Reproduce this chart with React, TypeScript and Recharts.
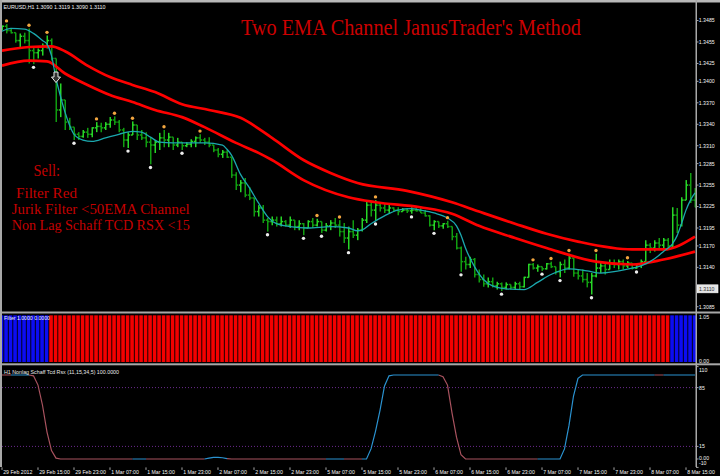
import React from 'react';
import { ComposedChart, Bar, Line, Scatter, XAxis, YAxis, ReferenceLine } from 'recharts';

// ---------- EURUSD H1 bars (155 hourly bars) ----------
const highs = [
  1.3478, 1.3480, 1.3474, 1.3468, 1.3467, 1.3468, 1.3474, 1.3448, 1.3446, 1.3453,
  1.3464, 1.3460, 1.3432, 1.3397, 1.3374, 1.3349, 1.3336, 1.3329, 1.3332, 1.3335,
  1.3336, 1.3343, 1.3342, 1.3343, 1.3350, 1.3351, 1.3346, 1.3335, 1.3329, 1.3344,
  1.3339, 1.3332, 1.3329, 1.3322, 1.3318, 1.3328, 1.3332, 1.3328, 1.3322, 1.3321,
  1.3315, 1.3315, 1.3319, 1.3323, 1.3326, 1.3321, 1.3322, 1.3311, 1.3307, 1.3304,
  1.3304, 1.3294, 1.3273, 1.3262, 1.3265, 1.3252, 1.3237, 1.3227, 1.3227, 1.3209,
  1.3211, 1.3211, 1.3211, 1.3206, 1.3211, 1.3206, 1.3206, 1.3202, 1.3206, 1.3209,
  1.3208, 1.3204, 1.3202, 1.3206, 1.3209, 1.3206, 1.3202, 1.3197, 1.3206, 1.3195,
  1.3209, 1.3234, 1.3233, 1.3234, 1.3231, 1.3230, 1.3227, 1.3224, 1.3224, 1.3223,
  1.3223, 1.3224, 1.3224, 1.3223, 1.3220, 1.3213, 1.3206, 1.3204, 1.3202, 1.3205,
  1.3197, 1.3188, 1.3169, 1.3155, 1.3155, 1.3153, 1.3137, 1.3130, 1.3126, 1.3126,
  1.3120, 1.3119, 1.3119, 1.3116, 1.3120, 1.3120, 1.3127, 1.3145, 1.3146, 1.3144,
  1.3141, 1.3146, 1.3148, 1.3141, 1.3148, 1.3151, 1.3159, 1.3153, 1.3137, 1.3137,
  1.3132, 1.3132, 1.3159, 1.3146, 1.3146, 1.3151, 1.3151, 1.3151, 1.3151, 1.3149,
  1.3146, 1.3146, 1.3151, 1.3178, 1.3174, 1.3178, 1.3181, 1.3181, 1.3181, 1.3224,
  1.3223, 1.3238, 1.3262, 1.3272, 1.3251,
];
const lows = [
  1.3471, 1.3467, 1.3467, 1.3454, 1.3448, 1.3453, 1.3425, 1.3424, 1.3432, 1.3436,
  1.3446, 1.3429, 1.3343, 1.3350, 1.3332, 1.3332, 1.3318, 1.3318, 1.3321, 1.3321,
  1.3322, 1.3329, 1.3329, 1.3332, 1.3335, 1.3339, 1.3329, 1.3308, 1.3307, 1.3325,
  1.3318, 1.3318, 1.3308, 1.3284, 1.3300, 1.3304, 1.3308, 1.3308, 1.3304, 1.3308,
  1.3304, 1.3308, 1.3308, 1.3308, 1.3314, 1.3311, 1.3308, 1.3301, 1.3294, 1.3293,
  1.3293, 1.3265, 1.3248, 1.3245, 1.3238, 1.3234, 1.3211, 1.3211, 1.3202, 1.3190,
  1.3199, 1.3197, 1.3197, 1.3197, 1.3195, 1.3192, 1.3192, 1.3185, 1.3195, 1.3195,
  1.3197, 1.3188, 1.3190, 1.3192, 1.3195, 1.3183, 1.3174, 1.3165, 1.3181, 1.3178,
  1.3190, 1.3202, 1.3211, 1.3205, 1.3218, 1.3216, 1.3216, 1.3218, 1.3213, 1.3218,
  1.3216, 1.3215, 1.3218, 1.3216, 1.3211, 1.3197, 1.3192, 1.3195, 1.3194, 1.3195,
  1.3178, 1.3165, 1.3134, 1.3137, 1.3139, 1.3126, 1.3119, 1.3113, 1.3112, 1.3112,
  1.3109, 1.3107, 1.3109, 1.3109, 1.3109, 1.3109, 1.3112, 1.3126, 1.3137, 1.3134,
  1.3135, 1.3137, 1.3139, 1.3130, 1.3126, 1.3132, 1.3137, 1.3127, 1.3123, 1.3119,
  1.3112, 1.3102, 1.3126, 1.3132, 1.3130, 1.3137, 1.3139, 1.3137, 1.3137, 1.3139,
  1.3137, 1.3138, 1.3139, 1.3148, 1.3160, 1.3162, 1.3167, 1.3165, 1.3165, 1.3167,
  1.3188, 1.3197, 1.3234, 1.3230, 1.3224,
];
const opens = [
  1.3474, 1.3477, 1.3471, 1.3468, 1.3457, 1.3463, 1.3457, 1.3443, 1.3440, 1.3443,
  1.3450, 1.3457, 1.3432, 1.3360, 1.3374, 1.3343, 1.3336, 1.3326, 1.3323, 1.3329,
  1.3326, 1.3335, 1.3337, 1.3335, 1.3340, 1.3346, 1.3343, 1.3332, 1.3318, 1.3325,
  1.3339, 1.3325, 1.3321, 1.3315, 1.3311, 1.3315, 1.3321, 1.3318, 1.3322, 1.3311,
  1.3315, 1.3310, 1.3312, 1.3316, 1.3321, 1.3318, 1.3315, 1.3311, 1.3304, 1.3298,
  1.3301, 1.3294, 1.3269, 1.3255, 1.3258, 1.3241, 1.3237, 1.3218, 1.3223, 1.3206,
  1.3204, 1.3206, 1.3201, 1.3204, 1.3199, 1.3206, 1.3197, 1.3201, 1.3195, 1.3204,
  1.3199, 1.3204, 1.3192, 1.3198, 1.3202, 1.3199, 1.3190, 1.3181, 1.3190, 1.3185,
  1.3192, 1.3206, 1.3227, 1.3220, 1.3227, 1.3223, 1.3220, 1.3223, 1.3220, 1.3218,
  1.3220, 1.3219, 1.3220, 1.3219, 1.3216, 1.3212, 1.3199, 1.3204, 1.3198, 1.3201,
  1.3197, 1.3183, 1.3167, 1.3148, 1.3144, 1.3151, 1.3130, 1.3123, 1.3117, 1.3120,
  1.3114, 1.3117, 1.3112, 1.3116, 1.3112, 1.3117, 1.3113, 1.3126, 1.3144, 1.3139,
  1.3141, 1.3138, 1.3145, 1.3141, 1.3134, 1.3144, 1.3139, 1.3153, 1.3132, 1.3128,
  1.3123, 1.3119, 1.3128, 1.3139, 1.3142, 1.3137, 1.3146, 1.3144, 1.3148, 1.3142,
  1.3146, 1.3139, 1.3144, 1.3148, 1.3171, 1.3167, 1.3174, 1.3171, 1.3178, 1.3170,
  1.3213, 1.3199, 1.3234, 1.3255, 1.3234,
];
const closes = [
  1.3477, 1.3471, 1.3468, 1.3457, 1.3463, 1.3457, 1.3443, 1.3440, 1.3443, 1.3450,
  1.3457, 1.3432, 1.3360, 1.3374, 1.3343, 1.3336, 1.3326, 1.3323, 1.3329, 1.3326,
  1.3335, 1.3337, 1.3335, 1.3340, 1.3346, 1.3343, 1.3332, 1.3318, 1.3325, 1.3339,
  1.3325, 1.3321, 1.3315, 1.3311, 1.3315, 1.3321, 1.3318, 1.3322, 1.3311, 1.3315,
  1.3310, 1.3312, 1.3316, 1.3321, 1.3318, 1.3315, 1.3311, 1.3304, 1.3298, 1.3301,
  1.3294, 1.3269, 1.3255, 1.3258, 1.3241, 1.3237, 1.3218, 1.3223, 1.3206, 1.3204,
  1.3206, 1.3201, 1.3204, 1.3199, 1.3206, 1.3197, 1.3201, 1.3195, 1.3204, 1.3199,
  1.3204, 1.3192, 1.3198, 1.3202, 1.3199, 1.3190, 1.3181, 1.3190, 1.3185, 1.3192,
  1.3206, 1.3227, 1.3220, 1.3227, 1.3223, 1.3220, 1.3223, 1.3220, 1.3218, 1.3220,
  1.3219, 1.3220, 1.3219, 1.3216, 1.3212, 1.3199, 1.3204, 1.3198, 1.3201, 1.3197,
  1.3183, 1.3167, 1.3148, 1.3144, 1.3151, 1.3130, 1.3123, 1.3117, 1.3120, 1.3114,
  1.3117, 1.3112, 1.3116, 1.3112, 1.3117, 1.3113, 1.3126, 1.3144, 1.3139, 1.3141,
  1.3138, 1.3145, 1.3141, 1.3134, 1.3144, 1.3139, 1.3153, 1.3132, 1.3128, 1.3123,
  1.3119, 1.3128, 1.3139, 1.3142, 1.3137, 1.3146, 1.3144, 1.3148, 1.3142, 1.3146,
  1.3139, 1.3144, 1.3148, 1.3171, 1.3167, 1.3174, 1.3171, 1.3178, 1.3170, 1.3213,
  1.3199, 1.3234, 1.3255, 1.3234, 1.3224,
];

// fractal markers (bar indices)
const upFractalIdx = [1, 6, 10, 21, 25, 29, 36, 44, 70, 75, 83, 99, 118, 122, 126, 132, 139];
const downFractalIdx = [7, 16, 28, 33, 40, 59, 67, 71, 77, 83, 91, 96, 102, 111, 120, 124, 131, 141];
const sellSignal = [{ i: 12, v: 1.3413 }];

// Jurik filter (cyan)
const jurikIdx = [0, 2, 5, 7, 9, 10, 11, 12, 13, 14, 15, 16, 18, 20, 23, 26, 29, 31, 33, 35, 38, 45, 49, 50, 51, 53, 55, 57, 59, 61, 64, 68, 73, 77, 79, 80, 82, 85, 88, 91, 93, 96, 99, 101, 102, 103, 105, 107, 109, 112, 116, 119, 122, 126, 130, 133, 136, 140, 142, 145, 147, 149, 150, 151, 152, 153, 154];
const jurikVal = [1.3470, 1.3474, 1.3473, 1.3467, 1.3457, 1.3452, 1.3436, 1.3404, 1.3379, 1.3357, 1.3339, 1.3326, 1.3318, 1.3316, 1.3321, 1.3326, 1.3330, 1.3329, 1.3322, 1.3315, 1.3314, 1.3314, 1.3311, 1.3305, 1.3297, 1.3270, 1.3251, 1.3230, 1.3211, 1.3201, 1.3197, 1.3195, 1.3197, 1.3195, 1.3191, 1.3192, 1.3201, 1.3212, 1.3220, 1.3222, 1.3220, 1.3216, 1.3209, 1.3198, 1.3185, 1.3167, 1.3141, 1.3123, 1.3114, 1.3110, 1.3109, 1.3119, 1.3130, 1.3138, 1.3135, 1.3132, 1.3134, 1.3139, 1.3142, 1.3152, 1.3162, 1.3173, 1.3184, 1.3201, 1.3220, 1.3234, 1.3244];

// 50 EMA channel (high / low)
const emaHighIdx = [0, 6, 11, 14, 19, 24, 29, 34, 40, 46, 53, 60, 67, 73, 79, 90, 100, 106, 114, 121, 128, 140, 147, 154];
const emaHighVal = [1.3443, 1.3448, 1.3449, 1.3442, 1.3422, 1.3406, 1.3395, 1.3385, 1.3368, 1.3360, 1.3349, 1.3321, 1.3290, 1.3272, 1.3258, 1.3247, 1.3231, 1.3218, 1.3201, 1.3187, 1.3176, 1.3165, 1.3165, 1.3183];
const emaLowIdx = [0, 6, 10, 14, 19, 24, 29, 34, 40, 45, 52, 57, 60, 67, 77, 83, 93, 100, 106, 114, 121, 132, 140, 147, 154];
const emaLowVal = [1.3422, 1.3429, 1.3428, 1.3411, 1.3395, 1.3381, 1.3371, 1.3360, 1.3350, 1.3336, 1.3314, 1.3300, 1.3290, 1.3262, 1.3238, 1.3231, 1.3224, 1.3215, 1.3198, 1.3181, 1.3167, 1.3148, 1.3144, 1.3151, 1.3162];

// Filter histogram: runs of [direction, bar count] (1 = blue, -1 = red)
const filterRuns = [[1, 11], [-1, 138], [1, 6]];

// Nonlag Schaff TCD RSX
const schaffVals = [
  100, 100, 100, 100, 100, 100, 100, 99, 88, 64,
  32, 10, 1, 0, 0, 0, 0, 0, 0, 0,
  0, 0, 0, 0, 0, 0, 0, 0, 0, 0,
  0, 0, 0, 0, 0, 0, 0, 0, 0, 0,
  0, 0, 0, 0, 0, 0, 1, 2, 2, 1.5,
  0.5, 0, 0, 0, 0, 0, 0, 0, 0, 0,
  0, 0, 0, 0, 0, 0, 0, 0, 0, 0,
  0, 0, 0, 0, 0, 0, 0, 0, 0, 0,
  0, 0, 12, 33, 58, 87, 99, 100, 100, 100,
  100, 100, 100, 100, 100, 100, 100, 100, 98, 88,
  55, 26, 5, 0, 0, 0, 0, 0, 0, 0,
  0, 0, 0, 0, 0, 0, 0, 0, 0, 0,
  0, 0, 0, 0, 0, 12, 40, 75, 96, 100,
  100, 100, 100, 100, 100, 100, 100, 100, 100, 100,
  100, 100, 100, 100, 100, 100, 100, 100, 100, 100,
  100, 100, 100, 100, 100,
];
const schaffTrendRuns = [[-1, 3], [1, 4], [-1, 23], [1, 3], [-1, 13], [1, 5], [-1, 22], [1, 4], [-1, 4], [1, 17], [-1, 22], [1, 26], [-1, 2], [1, 7]];

// axis ticks and labels
const priceTicks = [1.3485, 1.3455, 1.3425, 1.3400, 1.3370, 1.3340, 1.3310, 1.3285, 1.3255, 1.3225, 1.3195, 1.3170, 1.3140, 1.3110, 1.3085];
const currentPrice = 1.3110;
const filterTicks = [1.05, 0];
const schaffTicks = [110, 85, 15, 0, -10];
const schaffLevels = [85, 15];
const dateTickIdx = [0, 8, 16, 24, 32, 40, 48, 56, 64, 72, 80, 88, 96, 104, 112, 120, 128, 136, 144, 152];
const dateLabels = ['29 Feb 2012', '29 Feb 15:00', '29 Feb 23:00', '1 Mar 07:00', '1 Mar 15:00', '1 Mar 23:00', '2 Mar 07:00', '2 Mar 15:00', '2 Mar 23:00', '5 Mar 07:00', '5 Mar 15:00', '5 Mar 23:00', '6 Mar 07:00', '6 Mar 15:00', '6 Mar 23:00', '7 Mar 07:00', '7 Mar 15:00', '7 Mar 23:00', '8 Mar 07:00', '8 Mar 15:00'];

const titleText = "Two EMA Channel JanusTrader's Method";
const noteLines = ['Sell:', 'Filter Red', 'Jurik Filter <50EMA Channel', 'Non Lag Schaff TCD RSX <15'];
const infoText = 'EURUSD,H1  1.3090 1.3119 1.3090 1.3110';
const filterLabel = 'Filter 1.0000 0.0000';
const schaffLabel = 'H1 Nonlag Schaff Tcd Rsx (11,15,34,5) 100.0000';

// ---------- derived tables ----------
const expandRuns = (runs: number[][]) => runs.flatMap(([d, n]) => Array.from({ length: n }, () => d));
const pairs = (idx: number[], val: number[]) => idx.map((i, k) => ({ i, v: val[k] }));

const barData = highs.map((h, i) => ({ i, high: h, low: lows[i], open: opens[i], close: closes[i] }));
const upFrData = upFractalIdx.map((i) => ({ i, v: highs[i] }));
const downFrData = downFractalIdx.map((i) => ({ i, v: lows[i] }));
const jurikData = pairs(jurikIdx, jurikVal);
const emaHighData = pairs(emaHighIdx, emaHighVal);
const emaLowData = pairs(emaLowIdx, emaLowVal);
const filterDir = expandRuns(filterRuns);
const filterData = filterDir.map((d, i) => ({ i, f: 1, dir: d }));
const schaffTrend = expandRuns(schaffTrendRuns);
const schaffUp = schaffVals.map((v, i) => ({ i, v: schaffTrend[i] === 1 || schaffTrend[i + 1] === 1 ? v : null }));
const schaffDown = schaffVals.map((v, i) => ({ i, v: schaffTrend[i] === -1 || schaffTrend[i + 1] === -1 ? v : null }));

// ---------- styling ----------
const X_DOMAIN: [number, number] = [-0.4444, 154.2222];
const PRICE_DOMAIN: [number, number] = [1.30804, 1.35067];
const UP_BAR = '#27d627';
const DOWN_BAR = '#119e11';
const SANS = 'Liberation Sans, Arial, sans-serif';
const SERIF = 'Liberation Serif, Times New Roman, serif';
const NOTE_SIZE = 14.2;

const OhlcShape = (props: any) => {
  const { x, y, width, height, payload } = props;
  if (x == null || y == null || !payload) return null;
  const top = Math.min(y, y + height);
  const h = Math.abs(height);
  const cx = x + width / 2;
  const span = payload.high - payload.low || 1e-9;
  const yo = top + ((payload.high - payload.open) / span) * h;
  const yc = top + ((payload.high - payload.close) / span) * h;
  const color = payload.close >= payload.open ? UP_BAR : DOWN_BAR;
  return (
    <g stroke={color} strokeWidth={1.5}>
      <line x1={cx} x2={cx} y1={top} y2={top + Math.max(h, 1)} />
      <line x1={cx - 1.9} x2={cx} y1={yo} y2={yo} />
      <line x1={cx} x2={cx + 1.9} y1={yc} y2={yc} />
    </g>
  );
};

const UpDot = (p: any) => <circle cx={p.cx} cy={p.cy - 3.2} r={1.7} fill="#f2a640" />;
const DownDot = (p: any) => <circle cx={p.cx} cy={p.cy + 3.2} r={1.7} fill="#ececec" />;
const SellArrow = (p: any) => {
  const { cx, cy } = p;
  const pts = [
    [cx - 2, cy], [cx + 2, cy], [cx + 2, cy + 5], [cx + 4.5, cy + 5], [cx, cy + 10.5], [cx - 4.5, cy + 5], [cx - 2, cy + 5],
  ].map((q) => q.join(',')).join(' ');
  return <polygon points={pts} fill="#303030" stroke="#e8e8e8" strokeWidth={1} />;
};

const FilterShape = (p: any) => {
  const { x, y, width, height, payload } = p;
  if (x == null) return null;
  return <rect x={x} y={Math.min(y, y + height)} width={width} height={Math.abs(height)} fill={payload.dir > 0 ? '#0c0cf2' : '#f40000'} />;
};

const PriceTick = (props: any) => {
  const { x, y, payload } = props;
  const v = payload.value;
  const label = v.toFixed(4);
  if (Math.abs(v - currentPrice) < 1e-7) {
    return (
      <g>
        <rect x={x + 1} y={y - 4} width={21} height={8} fill="#e4e4e4" stroke="#ffffff" strokeWidth={0.6} />
        <text x={x + 3} y={y + 1.9} fontSize={5.2} fill="#303030" fontFamily={SANS}>{label}</text>
      </g>
    );
  }
  return (
    <g>
      <line x1={x} x2={x + 2.5} y1={y} y2={y} stroke="#d0d0d0" strokeWidth={0.8} />
      <text x={x + 2.8} y={y + 1.9} fontSize={5.2} fill="#f4f4f4" fontFamily={SANS}>{label}</text>
    </g>
  );
};

const FilterTick = (props: any) => {
  const { x, y, payload } = props;
  const v = payload.value;
  const off = v > 1 ? 3.8 : -1.4;
  return <text x={x + 3} y={y + off + 1.9} fontSize={5.2} fill="#f4f4f4" fontFamily={SANS}>{v.toFixed(2)}</text>;
};

const SchaffTick = (props: any) => {
  const { x, y, payload } = props;
  const v = payload.value;
  const off = v === 110 ? 3.4 : v === -10 ? -4.4 : v === 0 ? -0.8 : 0;
  const label = v === 0 ? '0.00' : String(v);
  return (
    <g>
      <line x1={x} x2={x + 2.5} y1={y} y2={y} stroke="#d0d0d0" strokeWidth={0.8} />
      <text x={x + 3} y={y + off + 1.9} fontSize={5.2} fill="#f4f4f4" fontFamily={SANS}>{label}</text>
    </g>
  );
};

const DateTick = (props: any) => {
  const { x, y, payload } = props;
  const k = dateTickIdx.indexOf(payload.value);
  if (k < 0) return null;
  return (
    <g>
      <line x1={x} x2={x} y1={y} y2={y + 2.5} stroke="#d0d0d0" strokeWidth={0.8} />
      <text x={x + 1.2} y={y + 7} fontSize={5.2} fill="#f4f4f4" fontFamily={SANS}>{dateLabels[k]}</text>
    </g>
  );
};

export default function App() {
  return (
    <div style={{ position: 'absolute', left: 0, top: 0, width: 720, height: 476, background: '#000', overflow: 'hidden' }}>
      {/* main price panel */}
      <div style={{ position: 'absolute', left: 0, top: 0 }}>
        <ComposedChart width={720} height={312} data={barData} margin={{ top: 5, right: 0, bottom: 2, left: 0 }}>
          <XAxis dataKey="i" type="number" domain={X_DOMAIN} allowDataOverflow hide />
          <YAxis orientation="right" width={24} domain={PRICE_DOMAIN} allowDataOverflow ticks={priceTicks} interval={0}
            tick={PriceTick} tickSize={0} tickMargin={0} axisLine={false} tickLine={false} />
          <Bar dataKey={(d: any) => [d.low, d.high]} barSize={3} shape={OhlcShape} isAnimationActive={false} />
          <Line data={emaHighData} dataKey="v" type="monotone" stroke="#ff0000" strokeWidth={2.7} dot={false} activeDot={false} isAnimationActive={false} />
          <Line data={emaLowData} dataKey="v" type="monotone" stroke="#ff0000" strokeWidth={2.7} dot={false} activeDot={false} isAnimationActive={false} />
          <Line data={jurikData} dataKey="v" type="monotone" stroke="#1ba8ae" strokeWidth={1.3} dot={false} activeDot={false} isAnimationActive={false} />
          <Scatter data={upFrData} dataKey="v" shape={UpDot} isAnimationActive={false} />
          <Scatter data={downFrData} dataKey="v" shape={DownDot} isAnimationActive={false} />
          <Scatter data={sellSignal} dataKey="v" shape={SellArrow} isAnimationActive={false} />
        </ComposedChart>
      </div>

      {/* filter histogram panel */}
      <div style={{ position: 'absolute', left: 0, top: 311 }}>
        <ComposedChart width={720} height={52} data={filterData} margin={{ top: 2, right: 0, bottom: 1, left: 0 }}>
          <XAxis dataKey="i" type="number" domain={X_DOMAIN} allowDataOverflow hide />
          <YAxis orientation="right" width={24} domain={[0, 1.05]} allowDataOverflow ticks={filterTicks} interval={0}
            tick={FilterTick} tickSize={0} tickMargin={0} axisLine={false} tickLine={false} />
          <Bar dataKey="f" barSize={3.6} shape={FilterShape} isAnimationActive={false} />
        </ComposedChart>
      </div>

      {/* schaff panel */}
      <div style={{ position: 'absolute', left: 0, top: 364 }}>
        <ComposedChart width={720} height={112} margin={{ top: 2.6, right: 0, bottom: 0, left: 0 }}>
          <XAxis dataKey="i" type="number" domain={X_DOMAIN} allowDataOverflow ticks={dateTickIdx} interval={0}
            tick={DateTick} tickSize={0} tickMargin={0} axisLine={false} tickLine={false} height={8.6} />
          <YAxis orientation="right" width={24} domain={[-10, 110]} allowDataOverflow ticks={schaffTicks} interval={0}
            tick={SchaffTick} tickSize={0} tickMargin={0} axisLine={false} tickLine={false} />
          {schaffLevels.map((lv) => (
            <ReferenceLine key={lv} y={lv} stroke="#6c2a8e" strokeDasharray="1 2" strokeWidth={1} />
          ))}
          <Line data={schaffDown} dataKey="v" type="linear" stroke="#a8525e" strokeWidth={1.2} dot={false} activeDot={false} connectNulls={false} isAnimationActive={false} />
          <Line data={schaffUp} dataKey="v" type="linear" stroke="#2a92d0" strokeWidth={1.2} dot={false} activeDot={false} connectNulls={false} isAnimationActive={false} />
        </ComposedChart>
      </div>

      {/* frame and texts */}
      <svg width={720} height={476} style={{ position: 'absolute', left: 0, top: 0, pointerEvents: 'none' }}>
        <rect x={0} y={0} width={720} height={2.5} fill="#b8b8b8" />
        <rect x={0} y={0} width={2} height={467} fill="#a8a8a8" />
        <rect x={695.5} y={0} width={1.5} height={467} fill="#a8a8a8" />
        <rect x={0} y={311.5} width={720} height={2} fill="#a8a8a8" />
        <rect x={0} y={363.3} width={720} height={2} fill="#a8a8a8" />

        <text x={3.5} y={9.3} fontSize={5.3} fill="#f4f4f4" fontFamily={SANS} textLength={102} lengthAdjust="spacingAndGlyphs">{infoText}</text>
        <text x={241} y={34.5} fontSize={24} fill="#cc0000" fontFamily={SERIF} textLength={340} lengthAdjust="spacingAndGlyphs">{titleText}</text>

        <text x={33.5} y={176} fontSize={NOTE_SIZE + 1.5} fill="#c40000" fontFamily={SERIF} textLength={26.5} lengthAdjust="spacingAndGlyphs">{noteLines[0]}</text>
        <text x={16} y={197.5} fontSize={NOTE_SIZE} fill="#c40000" fontFamily={SERIF} textLength={61} lengthAdjust="spacingAndGlyphs">{noteLines[1]}</text>
        <text x={11.7} y={213.5} fontSize={NOTE_SIZE} fill="#c40000" fontFamily={SERIF} textLength={178} lengthAdjust="spacingAndGlyphs">{noteLines[2]}</text>
        <text x={11.7} y={229.5} fontSize={NOTE_SIZE} fill="#c40000" fontFamily={SERIF} textLength={178} lengthAdjust="spacingAndGlyphs">{noteLines[3]}</text>

        <text x={4} y={320} fontSize={5.2} fill="#f4f4f4" fontFamily={SANS} textLength={46} lengthAdjust="spacingAndGlyphs">{filterLabel}</text>
        <text x={4} y={373.5} fontSize={5.2} fill="#e8e8e8" fontFamily={SANS} textLength={115} lengthAdjust="spacingAndGlyphs">{schaffLabel}</text>
      </svg>
    </div>
  );
}
